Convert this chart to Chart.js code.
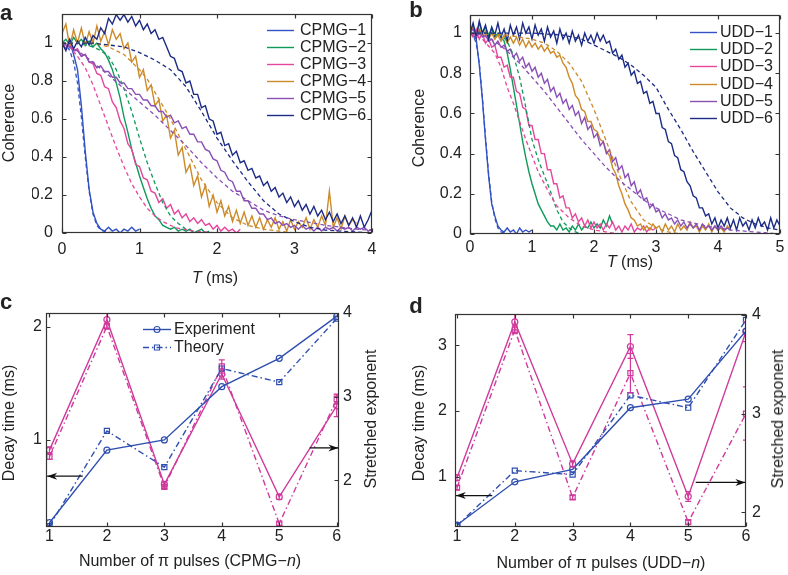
<!DOCTYPE html>
<html>
<head>
<meta charset="utf-8">
<script src="https://cdn.jsdelivr.net/npm/chart.js@4.4.1/dist/chart.umd.min.js"></script>
<style>
html, body { margin: 0; padding: 0; background: #fff; }
#wrap { position: relative; width: 788px; height: 575px; overflow: hidden; font-family: "Liberation Sans", Arial, sans-serif; color: #222; }
canvas { position: absolute; left: 0; top: 0; }
.t { position: absolute; font-size: 16px; white-space: nowrap; transform: translate(-50%, -50%); }
.r { transform: translate(-50%, -50%) rotate(-90deg); }
.lab { position: absolute; font-size: 22px; font-weight: bold; transform: translate(-50%, -50%); }
</style>
</head>
<body>
<div id="wrap">
  <canvas id="pa" width="788" height="575"></canvas>
  <canvas id="pb" width="788" height="575"></canvas>
  <canvas id="pc" width="788" height="575"></canvas>
  <canvas id="pd" width="788" height="575"></canvas>

  <div class="lab" style="left:6px;top:13px">a</div>
  <div class="lab" style="left:416px;top:10px">b</div>
  <div class="lab" style="left:6px;top:302px">c</div>
  <div class="lab" style="left:416px;top:306px">d</div>

  <div class="t r" style="left:9px;top:123px">Coherence</div>
  <div class="t" style="left:215px;top:278px"><i>T</i> (ms)</div>
  <div class="t r" style="left:419px;top:128px">Coherence</div>
  <div class="t" style="left:630px;top:262px"><i>T</i> (ms)</div>
  <div class="t r" style="left:9px;top:423px">Decay time (ms)</div>
  <div class="t r" style="left:371px;top:419px">Stretched exponent</div>
  <div class="t" style="left:190px;top:561px">Number of π pulses (CPMG−<i>n</i>)</div>
  <div class="t r" style="left:419px;top:423px">Decay time (ms)</div>
  <div class="t r" style="left:778px;top:419px">Stretched exponent</div>
  <div class="t" style="left:601px;top:563px">Number of π pulses (UDD−<i>n</i>)</div>
</div>

<script>
// ---- datos: tiempos de muestreo (ms) ----
const tGrid = [0,0.05,0.1,0.15,0.2,0.25,0.3,0.35,0.4,0.45,0.5,0.55,0.6,0.65,0.7,0.75,0.8,0.85,0.9,0.95,
  1,1.05,1.1,1.15,1.2,1.25,1.3,1.35,1.4,1.45,1.5,1.55,1.6,1.65,1.7,1.75,1.8,1.85,1.9,1.95,
  2,2.05,2.1,2.15,2.2,2.25,2.3,2.35,2.4,2.45,2.5,2.55,2.6,2.65,2.7,2.75,2.8,2.85,2.9,2.95,
  3,3.05,3.1,3.15,3.2,3.25,3.3,3.35,3.4,3.45,3.5,3.55,3.6,3.65,3.7,3.75,3.8,3.85,3.9,3.95,
  4,4.05,4.1,4.15,4.2,4.25,4.3,4.35,4.4,4.45,4.5,4.55,4.6,4.65,4.7,4.75,4.8,4.85,4.9,4.95,5];

// panel a: coherencia medida (CPMG)
const cpmgNames = ["CPMG−1","CPMG−2","CPMG−3","CPMG−4","CPMG−5","CPMG−6"];
const cpmg1 = [1.0,0.97,1.01,0.94,0.86,0.67,0.43,0.23,0.11,0.05,0.02,0.01,0.03,0.01,0.02,0.0,0.02,0.01,0.03,0.01,0.02];
const cpmg2 = [1.0,1.02,0.99,1.03,1.0,1.02,0.99,1.01,0.98,1.0,0.97,0.95,0.91,0.86,0.79,0.71,0.61,0.53,0.44,0.37,
  0.30,0.24,0.18,0.13,0.09,0.07,0.04,0.03,0.02,0.03,0.01,0.02,0.01,0.02,0.0,0.01,0.02,0.0,0.01];
const cpmg3 = [1.0,0.97,1.0,0.96,0.97,0.93,0.94,0.9,0.89,0.84,0.83,0.77,0.76,0.69,0.66,0.59,0.55,0.47,0.44,0.36,
  0.35,0.29,0.28,0.22,0.21,0.16,0.18,0.13,0.15,0.1,0.12,0.08,0.1,0.06,0.08,0.05,0.07,0.04,0.05,0.02,
  0.04,0.01,0.03,0.01,0.02,0.0,0.02];
const cpmg4 = [1.05,1.1,0.98,1.07,1.0,1.08,0.99,1.06,1.0,1.09,1.01,1.06,0.99,1.07,1.02,1.05,0.97,1.0,0.9,0.93,
  0.82,0.86,0.75,0.78,0.67,0.7,0.59,0.62,0.5,0.54,0.41,0.45,0.32,0.36,0.25,0.3,0.19,0.25,0.14,0.2,
  0.11,0.17,0.09,0.14,0.06,0.12,0.05,0.11,0.04,0.09,0.03,0.08,0.02,0.07,0.03,0.08,0.02,0.06,0.01,0.07,
  0.02,0.06,0.03,0.08,0.02,0.07,0.03,0.09,0.04,0.22,0.03,0.08,0.02,0.09,0.04,0.07,0.05];
const cpmg5 = [1.0,0.99,0.98,0.96,0.96,0.93,0.94,0.9,0.9,0.87,0.88,0.85,0.85,0.82,0.82,0.79,0.79,0.76,0.76,0.73,
  0.73,0.7,0.7,0.67,0.67,0.64,0.64,0.61,0.62,0.58,0.59,0.55,0.56,0.52,0.52,0.48,0.48,0.44,0.43,0.39,
  0.38,0.33,0.32,0.28,0.27,0.22,0.22,0.17,0.17,0.13,0.13,0.1,0.1,0.07,0.08,0.05,0.06,0.04,0.05,0.03,
  0.04,0.02,0.04,0.02,0.03,0.01,0.03,0.01,0.03,0.02,0.03,0.01,0.03,0.02,0.03,0.01,0.03,0.02,0.03,0.01,
  0.02];
const cpmg6 = [1.0,0.96,1.02,0.97,1.01,0.98,1.03,0.99,1.04,1.02,1.08,1.05,1.13,1.1,1.15,1.12,1.15,1.11,1.14,1.09,
  1.12,1.07,1.1,1.05,1.07,1.02,1.03,0.98,0.93,0.92,0.86,0.85,0.79,0.8,0.73,0.73,0.66,0.67,0.6,0.59,
  0.52,0.53,0.46,0.47,0.41,0.43,0.37,0.38,0.33,0.34,0.29,0.3,0.25,0.27,0.22,0.24,0.19,0.21,0.16,0.19,
  0.14,0.17,0.12,0.15,0.1,0.14,0.09,0.12,0.07,0.11,0.06,0.1,0.05,0.09,0.04,0.08,0.03,0.09,0.03,0.07,
  0.12];

// panel a: teoria [T, coherencia]
const cpmg1Th = [[0,1],[0.05,0.99],[0.1,0.96],[0.15,0.9],[0.2,0.79],[0.25,0.61],[0.3,0.4],[0.35,0.22],[0.4,0.1],[0.45,0.04],[0.5,0.015],[0.6,0.003],[0.8,0]];
const cpmg2Th = [[0,1],[0.2,1],[0.4,0.98],[0.5,0.96],[0.6,0.93],[0.7,0.86],[0.8,0.76],[0.9,0.64],[1.0,0.5],[1.1,0.37],[1.2,0.26],[1.3,0.16],[1.4,0.09],[1.5,0.05],[1.6,0.02],[1.7,0.01],[1.9,0]];
const cpmg3Th = [[0,1],[0.1,0.98],[0.2,0.93],[0.3,0.87],[0.4,0.78],[0.5,0.67],[0.6,0.56],[0.7,0.45],[0.8,0.35],[0.9,0.26],[1.0,0.19],[1.1,0.13],[1.2,0.09],[1.3,0.06],[1.4,0.04],[1.5,0.025],[1.7,0.01],[2.0,0]];
const cpmg4Th = [[0,1],[0.4,1],[0.6,0.98],[0.8,0.94],[1.0,0.86],[1.1,0.81],[1.2,0.74],[1.3,0.67],[1.4,0.6],[1.5,0.52],[1.6,0.44],[1.7,0.36],[1.8,0.28],[1.9,0.22],[2.0,0.16],[2.1,0.12],[2.2,0.08],[2.4,0.04],[2.6,0.02],[2.8,0.01],[3.0,0]];
const cpmg5Th = [[0,1],[0.2,0.96],[0.4,0.9],[0.6,0.83],[0.8,0.76],[1.0,0.69],[1.2,0.62],[1.4,0.54],[1.6,0.46],[1.8,0.37],[2.0,0.29],[2.2,0.22],[2.4,0.17],[2.6,0.12],[2.8,0.09],[3.0,0.07],[3.4,0.04],[3.8,0.02],[4.0,0.015]];
const cpmg6Th = [[0,1],[0.4,1],[0.6,0.99],[0.8,0.98],[1.0,0.95],[1.2,0.91],[1.4,0.86],[1.6,0.77],[1.8,0.64],[2.0,0.5],[2.2,0.38],[2.4,0.27],[2.6,0.17],[2.8,0.1],[3.0,0.06],[3.2,0.03],[3.4,0.015],[3.6,0.01],[4.0,0]];

// panel b: coherencia medida (UDD)
const uddNames = ["UDD−1","UDD−2","UDD−3","UDD−4","UDD−5","UDD−6"];
const udd1 = [1.0,0.99,0.97,0.84,0.67,0.47,0.29,0.15,0.09,0.04,0.02,0.01,0.03,0.01,0.02,0.0,0.03,0.01,0.02,0.01,0.02];
const udd2 = [1.0,1.04,0.99,1.05,1.0,1.03,0.99,1.02,0.98,1.0,0.98,0.96,0.9,0.82,0.73,0.64,0.55,0.46,0.38,0.31,
  0.25,0.2,0.15,0.12,0.09,0.06,0.04,0.04,0.02,0.05,0.02,0.03,0.01,0.04,0.02,0.05,0.02,0.04,0.03,0.06,
  0.03,0.05,0.03,0.07,0.04,0.09,0.05];
const udd3 = [1.0,0.98,1.02,0.97,1.0,0.95,0.97,0.93,0.94,0.88,0.88,0.83,0.84,0.78,0.78,0.71,0.7,0.63,0.62,0.54,
  0.54,0.47,0.47,0.4,0.4,0.32,0.32,0.25,0.25,0.18,0.19,0.13,0.13,0.08,0.1,0.06,0.08,0.04,0.07,0.03,
  0.06,0.03,0.05,0.02,0.05,0.03,0.06,0.02,0.04,0.01,0.04,0.02,0.05,0.01,0.03,0.02,0.04,0.01,0.03,0.02,
  0.03];
const udd4 = [1.0,1.03,0.98,1.02,0.99,1.01,0.97,1.0,0.97,0.99,0.96,0.99,0.95,0.98,0.95,0.98,0.94,0.97,0.93,0.96,
  0.93,0.95,0.92,0.94,0.91,0.93,0.9,0.91,0.88,0.89,0.85,0.83,0.78,0.75,0.69,0.67,0.62,0.61,0.56,0.56,
  0.52,0.51,0.47,0.46,0.41,0.39,0.33,0.3,0.24,0.2,0.15,0.12,0.08,0.07,0.04,0.05,0.02,0.04,0.02,0.05,
  0.03,0.04,0.01,0.05,0.02,0.04,0.01,0.05,0.02,0.04,0.02,0.06,0.03,0.04,0.01,0.04,0.02,0.05,0.01,0.04,
  0.02,0.03,0.01,0.04,0.02];
const udd5 = [1.0,1.02,0.98,1.01,0.98,0.99,0.96,0.97,0.94,0.96,0.93,0.94,0.91,0.92,0.88,0.9,0.86,0.88,0.83,0.85,
  0.81,0.83,0.78,0.8,0.75,0.77,0.71,0.73,0.68,0.7,0.65,0.67,0.62,0.64,0.59,0.61,0.55,0.58,0.52,0.54,
  0.48,0.5,0.44,0.46,0.4,0.42,0.36,0.38,0.32,0.34,0.28,0.3,0.24,0.26,0.2,0.22,0.17,0.18,0.13,0.15,
  0.11,0.12,0.08,0.1,0.07,0.08,0.05,0.07,0.04,0.06,0.03,0.05,0.03,0.05,0.02,0.05,0.03,0.04,0.02,0.04,
  0.02,0.04,0.02,0.03,0.02];
const udd6 = [1.0,1.05,0.98,1.06,1.0,1.04,0.97,1.03,0.99,1.05,0.98,1.02,0.96,1.04,0.99,1.03,0.97,1.05,1.0,1.03,
  0.97,1.04,0.99,1.02,0.96,1.03,0.98,1.01,0.95,1.02,0.97,1.0,0.95,1.01,0.96,0.99,0.94,1.0,0.96,0.99,
  0.95,1.0,0.96,0.99,0.95,0.96,0.9,0.92,0.87,0.89,0.83,0.85,0.79,0.81,0.75,0.76,0.7,0.71,0.65,0.66,
  0.6,0.6,0.53,0.52,0.46,0.45,0.39,0.38,0.32,0.31,0.26,0.24,0.19,0.18,0.13,0.13,0.09,0.1,0.05,0.08,
  0.03,0.07,0.04,0.08,0.03,0.07,0.02,0.08,0.04,0.06,0.02,0.07,0.03,0.08,0.04,0.06,0.02,0.08,0.03,0.07,
  0.04];

// panel b: teoria
const udd1Th = [[0,1],[0.05,0.99],[0.1,0.95],[0.15,0.85],[0.2,0.68],[0.25,0.48],[0.3,0.3],[0.35,0.16],[0.4,0.08],[0.45,0.03],[0.5,0.01],[0.6,0]];
const udd2Th = [[0,1],[0.4,1],[0.5,0.99],[0.6,0.96],[0.7,0.89],[0.8,0.78],[0.9,0.63],[1.0,0.47],[1.1,0.37],[1.2,0.29],[1.3,0.21],[1.4,0.12],[1.5,0.06],[1.6,0.03],[1.7,0.01],[1.8,0]];
const udd3Th = [[0,1],[0.2,0.97],[0.4,0.9],[0.5,0.83],[0.6,0.73],[0.7,0.65],[0.8,0.56],[0.9,0.47],[1.0,0.39],[1.1,0.31],[1.2,0.25],[1.3,0.19],[1.4,0.14],[1.6,0.08],[1.8,0.04],[2.0,0.02],[2.4,0]];
const udd4Th = [[0,1],[0.6,0.99],[1.0,0.97],[1.2,0.95],[1.4,0.91],[1.6,0.85],[1.8,0.76],[2.0,0.62],[2.2,0.46],[2.4,0.3],[2.6,0.16],[2.8,0.07],[3.0,0.03],[3.2,0.01],[3.4,0]];
const udd5Th = [[0,1],[0.2,0.99],[0.4,0.96],[0.6,0.91],[0.8,0.85],[1.0,0.78],[1.2,0.71],[1.4,0.63],[1.6,0.55],[1.8,0.47],[2.0,0.4],[2.2,0.33],[2.4,0.27],[2.6,0.22],[2.8,0.17],[3.0,0.13],[3.4,0.07],[3.8,0.04],[4.2,0.02],[5.0,0]];
const udd6Th = [[0,1],[1.0,1.0],[1.5,0.99],[1.8,0.97],[2.0,0.94],[2.2,0.91],[2.4,0.88],[2.6,0.84],[2.8,0.79],[3.0,0.73],[3.2,0.62],[3.4,0.52],[3.6,0.41],[3.8,0.31],[4.0,0.21],[4.2,0.13],[4.4,0.08],[4.6,0.05],[4.8,0.03],[5.0,0.02]];

// paneles c y d
const pulses = [1, 2, 3, 4, 5, 6];
const cpmgTauExp = [0.27, 0.91, 1.0, 1.47, 1.72, 2.09];
const cpmgTauTh = [0.24, 1.08, 0.76, 1.63, 1.51, 2.07];
const cpmgExpoExp = [2.36, 3.92, 1.95, 3.27, 1.80, 2.89];
const cpmgExpoTh = [2.28, 3.84, 1.92, 3.36, 1.48, 2.97];
const cpmgErrExp = [0.04, 0.1, 0.03, 0.06, 0.03, 0.13];
const cpmgErrTh = [0.03, 0.03, 0.02, 0.08, 0.02, 0.06];
const uddTauExp = [0.26, 0.92, 1.11, 2.05, 2.18, 3.22];
const uddTauTh = [0.25, 1.09, 1.03, 2.24, 2.05, 3.39];
const uddExpoExp = [2.35, 3.93, 2.49, 3.68, 2.16, 3.83];
const uddExpoTh = [2.25, 3.85, 2.15, 3.41, 1.90, 3.0];
const uddErrExp = [0.03, 0.08, 0.03, 0.12, 0.05, 0.1];
const uddErrTh = [0.02, 0.04, 0.02, 0.2, 0.02, 0.27];

// ticks
const ticksTA = [0, 1, 2, 3, 4];
const ticksTB = [0, 1, 2, 3, 4, 5];
const ticksCoh = [0, 0.2, 0.4, 0.6, 0.8, 1];
const ticksN = [1, 2, 3, 4, 5, 6];
const ticksTauC = [1, 2];
const ticksTauD = [1, 2, 3];
const ticksExpo = [2, 3, 4];

// flechas (x, tiempo de decaimiento)
const arrowsC = [{from: [1.58, 0.68], to: [0.96, 0.68]}, {from: [5.53, 0.93], to: [6.03, 0.93]}];
const arrowsD = [{from: [1.61, 0.71], to: [0.98, 0.71]}, {from: [5.13, 0.91], to: [5.99, 0.91]}];

const COLORS = ["#3352c4", "#0f9a5a", "#e5479e", "#cc8a2a", "#8a4fb5", "#1c2b85"];
const BLUE = "#2f4fb0";
const MAGENTA = "#cf3a9c";
const FONT = {family: '"Liberation Sans", Arial, sans-serif', size: 16};
const INK = "#222";

function fixTicks(vals) {
    return s => { s.ticks = vals.map(v => ({value: v})); };
}

function xAxis(min, max, ticks, pad) {
    return {
        type: "linear", position: "bottom", min, max,
        afterBuildTicks: fixTicks(ticks),
        afterFit: s => { s.height = 30; s.paddingLeft = 0; s.paddingRight = 0; },
        grid: {display: false, drawTicks: false}, border: {display: false},
        ticks: {font: FONT, color: INK, padding: pad, maxRotation: 0, autoSkip: false}
    };
}

function yAxis(pos, min, max, ticks, pad) {
    return {
        type: "linear", position: pos, min, max,
        afterBuildTicks: fixTicks(ticks),
        afterFit: s => { s.width = 30; s.paddingTop = 0; s.paddingBottom = 0; },
        grid: {display: false, drawTicks: false}, border: {display: false},
        ticks: {font: FONT, color: INK, padding: pad, autoSkip: false, callback: v => String(v)}
    };
}

// caja, ticks internos, leyenda, barras de error y flechas
const decor = {
    id: "decor",
    afterDatasetsDraw(chart, args, o) {
        const {ctx, chartArea: a, scales} = chart;
        ctx.save();
        ctx.beginPath();
        ctx.rect(a.left, a.top, a.right - a.left, a.bottom - a.top);
        ctx.clip();
        (o.errors || []).forEach(e => {
            const ds = chart.data.datasets[e.ds];
            const ys = scales[ds.yAxisID || "y"];
            ctx.strokeStyle = ds.borderColor;
            ctx.lineWidth = 1.2;
            ctx.setLineDash([]);
            ds.data.forEach((p, i) => {
                const err = e.err[i];
                if (!err) return;
                const x = scales.x.getPixelForValue(p.x);
                const y1 = ys.getPixelForValue(p.y - err), y2 = ys.getPixelForValue(p.y + err);
                ctx.beginPath();
                ctx.moveTo(x, y1); ctx.lineTo(x, y2);
                ctx.moveTo(x - 3, y1); ctx.lineTo(x + 3, y1);
                ctx.moveTo(x - 3, y2); ctx.lineTo(x + 3, y2);
                ctx.stroke();
            });
        });
        ctx.restore();
    },
    afterDraw(chart, args, o) {
        const {ctx, chartArea: a, scales} = chart;
        const L = Math.round(a.left) + 0.5, R = Math.round(a.right) - 0.5;
        const T = Math.round(a.top) + 0.5, B = Math.round(a.bottom) - 0.5;
        const len = 4;
        ctx.save();
        ctx.strokeStyle = "#333";
        ctx.lineWidth = 1.2;
        ctx.setLineDash([]);
        ctx.strokeRect(L, T, R - L, B - T);
        ctx.beginPath();
        scales.x.ticks.forEach(t => {
            const px = Math.round(scales.x.getPixelForValue(t.value)) + 0.5;
            ctx.moveTo(px, B); ctx.lineTo(px, B - len);
            ctx.moveTo(px, T); ctx.lineTo(px, T + len);
        });
        scales.y.ticks.forEach(t => {
            const py = Math.round(scales.y.getPixelForValue(t.value)) + 0.5;
            ctx.moveTo(L, py); ctx.lineTo(L + len, py);
            if (o.mirror) { ctx.moveTo(R, py); ctx.lineTo(R - len, py); }
        });
        if (scales.yR) {
            scales.yR.ticks.forEach(t => {
                const py = Math.round(scales.yR.getPixelForValue(t.value)) + 0.5;
                ctx.moveTo(R, py); ctx.lineTo(R - len, py);
            });
        }
        ctx.stroke();

        // flechas
        (o.arrows || []).forEach(ar => {
            const x0 = scales.x.getPixelForValue(ar.from[0]), y0 = scales.y.getPixelForValue(ar.from[1]);
            const x1 = scales.x.getPixelForValue(ar.to[0]), y1 = scales.y.getPixelForValue(ar.to[1]);
            const ang = Math.atan2(y1 - y0, x1 - x0);
            ctx.strokeStyle = "#111";
            ctx.fillStyle = "#111";
            ctx.lineWidth = 1.3;
            ctx.beginPath(); ctx.moveTo(x0, y0); ctx.lineTo(x1, y1); ctx.stroke();
            ctx.beginPath();
            ctx.moveTo(x1, y1);
            ctx.lineTo(x1 - 10 * Math.cos(ang) + 3.5 * Math.sin(ang), y1 - 10 * Math.sin(ang) - 3.5 * Math.cos(ang));
            ctx.lineTo(x1 - 7 * Math.cos(ang), y1 - 7 * Math.sin(ang));
            ctx.lineTo(x1 - 10 * Math.cos(ang) - 3.5 * Math.sin(ang), y1 - 10 * Math.sin(ang) + 3.5 * Math.cos(ang));
            ctx.closePath();
            ctx.fill();
        });

        // leyenda
        if (o.legend) {
            const lg = o.legend;
            ctx.font = '16px "Liberation Sans", Arial, sans-serif';
            ctx.textBaseline = "middle";
            lg.items.forEach((di, r) => {
                const ds = chart.data.datasets[di];
                const y = Math.round(lg.y0 + r * lg.dy) + 0.5;
                ctx.strokeStyle = ds.borderColor;
                ctx.lineWidth = ds.borderWidth;
                ctx.setLineDash(ds.borderDash || []);
                ctx.beginPath(); ctx.moveTo(lg.x0, y); ctx.lineTo(lg.x1, y); ctx.stroke();
                ctx.setLineDash([]);
                if (ds.pointRadius) {
                    const mx = (lg.x0 + lg.x1) / 2, rr = ds.pointRadius;
                    ctx.lineWidth = 1.1;
                    ctx.beginPath();
                    if (ds.pointStyle === "rect") {
                        const h = rr * Math.SQRT1_2;
                        ctx.rect(mx - h, y - h, 2 * h, 2 * h);
                    } else {
                        ctx.arc(mx, y, rr, 0, Math.PI * 2);
                    }
                    ctx.stroke();
                }
                ctx.fillStyle = INK;
                ctx.fillText(ds.label, lg.tx, y);
            });
        }
        ctx.restore();
    }
};

function curveSets(names, expArrs, thArrs) {
    const sets = [];
    expArrs.forEach((ys, k) => sets.push({
        label: names[k],
        data: ys.map((y, i) => ({x: tGrid[i], y})),
        borderColor: COLORS[k], borderWidth: 1.4, pointRadius: 0, order: 20 - k
    }));
    thArrs.forEach((pts, k) => sets.push({
        label: names[k] + " theory",
        data: pts.map(p => ({x: p[0], y: p[1]})),
        borderColor: COLORS[k], borderWidth: 1.3, borderDash: [4, 3], pointRadius: 0, order: 10 - k
    }));
    return sets;
}

function pulseSet(label, ys, color, axis, dashed) {
    return {
        label,
        data: ys.map((y, i) => ({x: pulses[i], y})),
        yAxisID: axis,
        borderColor: color, borderWidth: 1.4,
        borderDash: dashed ? [6, 3, 1.5, 3] : [],
        pointStyle: dashed ? "rect" : "circle",
        pointRadius: dashed ? 3.6 : 3,
        pointBorderWidth: 1.2,
        pointBorderColor: color,
        pointBackgroundColor: "rgba(255,255,255,0)"
    };
}

function panel(id, area, datasets, scales, decorOpts) {
    const hasR = !!scales.yR;
    new Chart(document.getElementById(id), {
        type: "line",
        data: {datasets},
        options: {
            responsive: false,
            animation: false,
            devicePixelRatio: 1,
            layout: {padding: {
                left: area[0] - 30,
                right: 788 - area[1] - (hasR ? 30 : 0),
                top: area[2],
                bottom: 575 - area[3] - 30
            }},
            scales,
            plugins: {legend: {display: false}, tooltip: {enabled: false}, decor: decorOpts}
        },
        plugins: [decor]
    });
}

// a
panel("pa", [62, 372, 14, 233],
    curveSets(cpmgNames, [cpmg1, cpmg2, cpmg3, cpmg4, cpmg5, cpmg6],
        [cpmg1Th, cpmg2Th, cpmg3Th, cpmg4Th, cpmg5Th, cpmg6Th]),
    {x: xAxis(0, 4, ticksTA, 7), y: yAxis("left", 0, 1.153, ticksCoh, 9)},
    {mirror: true, legend: {items: [0, 1, 2, 3, 4, 5], x0: 267, x1: 294, tx: 300, y0: 30, dy: 17}});

// b
panel("pb", [470, 780, 15, 234],
    curveSets(uddNames, [udd1, udd2, udd3, udd4, udd5, udd6],
        [udd1Th, udd2Th, udd3Th, udd4Th, udd5Th, udd6Th]),
    {x: xAxis(0, 5, ticksTB, 4), y: yAxis("left", 0, 1.09, ticksCoh, 8)},
    {mirror: true, legend: {items: [0, 1, 2, 3, 4, 5], x0: 690, x1: 717, tx: 720, y0: 32, dy: 17.2}});

// c
panel("pc", [46, 339, 313, 527],
    [pulseSet("Experiment", cpmgTauExp, BLUE, "y", false),
     pulseSet("Theory", cpmgTauTh, BLUE, "y", true),
     pulseSet("Exponent experiment", cpmgExpoExp, MAGENTA, "yR", false),
     pulseSet("Exponent theory", cpmgExpoTh, MAGENTA, "yR", true)],
    {x: xAxis(0.94, 6.04, ticksN, 0),
     y: yAxis("left", 0.232, 2.12, ticksTauC, 4),
     yR: yAxis("right", 1.44, 4.0, ticksExpo, 4)},
    {errors: [{ds: 2, err: cpmgErrExp}, {ds: 3, err: cpmgErrTh}],
     arrows: arrowsC,
     legend: {items: [0, 1], x0: 143, x1: 171, tx: 174, y0: 329, dy: 18}});

// d
panel("pd", [455, 746, 314, 527],
    [pulseSet("Experiment", uddTauExp, BLUE, "y", false),
     pulseSet("Theory", uddTauTh, BLUE, "y", true),
     pulseSet("Exponent experiment", uddExpoExp, MAGENTA, "yR", false),
     pulseSet("Exponent theory", uddExpoTh, MAGENTA, "yR", true)],
    {x: xAxis(0.965, 6.0, ticksN, 0),
     y: yAxis("left", 0.23, 3.48, ticksTauD, 8),
     yR: yAxis("right", 1.85, 4.01, ticksExpo, 6)},
    {errors: [{ds: 2, err: uddErrExp}, {ds: 3, err: uddErrTh}],
     arrows: arrowsD});
</script>
</body>
</html>
